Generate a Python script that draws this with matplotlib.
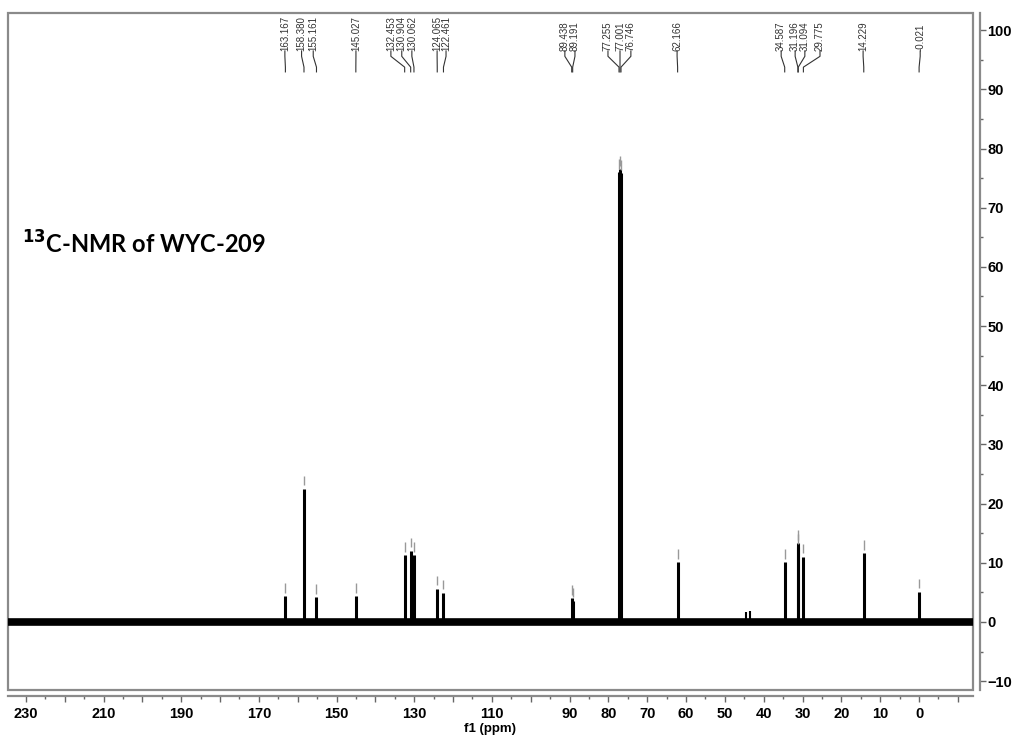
import matplotlib
matplotlib.use("Agg")
import matplotlib.pyplot as plt
from matplotlib.patches import Rectangle
from matplotlib.ticker import MultipleLocator
import matplotlib.transforms as mtransforms

# 13C NMR peaks (ppm, intensity)
peak_ppm = [163.167, 158.380, 155.161, 145.027, 132.453, 130.904, 130.062,
            124.065, 122.461, 89.438, 89.191, 77.255, 77.001, 76.746,
            62.166, 34.587, 31.196, 31.094, 29.775, 14.229, -0.021]
peak_height = [4.3, 22.5, 4.2, 4.3, 11.3, 12.0, 11.3,
               5.6, 4.9, 4.0, 3.6, 76.0, 76.5, 75.8,
               10.1, 10.1, 13.3, 12.6, 11.0, 11.6, 5.1]
# small unlabelled bumps
minor_ppm = [44.6, 43.4]
minor_height = [1.6, 1.9]

# where the rotated peak labels sit (ppm) - layout only
label_pos = [163.3, 159.0, 156.0, 145.0, 136.0, 133.2, 130.6,
             124.1, 121.8, 91.2, 88.6, 80.1, 77.0, 74.2,
             62.3, 35.5, 31.9, 29.4, 25.5, 14.4, -0.3]

xtick_vals = list(range(230, -11, -10))
xtick_text = ['230', '', '210', '', '190', '', '170', '', '150', '', '130', '',
              '110', '', '90', '80', '70', '60', '50', '40', '30', '20', '10', '0', '']
ytick_vals = list(range(-10, 101, 10))

plt.rcParams['font.family'] = ['Liberation Sans', 'DejaVu Sans']

fig = plt.figure(figsize=(10.15, 7.38), dpi=100)
ax = fig.add_axes([8 / 1015, 1 - 690 / 738, 965 / 1015, 677 / 738])

ax.set_xlim(234.6, -13.9)
ax.set_ylim(-11.5, 102.9)

# baseline + peaks
ax.hlines(0, 234.6, -13.9, color='black', lw=5.5)
ax.vlines(peak_ppm, 0, peak_height, color='black', lw=2.2)
ax.vlines(minor_ppm, 0, minor_height, color='black', lw=1.5)
# little peak-pick marks above the tips
ax.vlines(peak_ppm, [h + 0.6 for h in peak_height], [h + 2.2 for h in peak_height],
          color='#999999', lw=1)

# box around the plot
for s in ['top', 'left']:
    ax.spines[s].set_visible(False)
ax.add_patch(Rectangle((0, 0), 1, 1, transform=ax.transAxes, fill=False,
                       edgecolor='#8a8a8a', lw=1.6, clip_on=False))
ax.spines['right'].set_position(('outward', 5))
ax.spines['bottom'].set_position(('outward', 4))
for s in ['right', 'bottom']:
    ax.spines[s].set_color('#8a8a8a')
    ax.spines[s].set_linewidth(1.6)

ax.yaxis.tick_right()
ax.set_yticks(ytick_vals)
ax.yaxis.set_minor_locator(MultipleLocator(5))
ax.set_xticks(xtick_vals)
ax.set_xticklabels(xtick_text)
ax.xaxis.set_minor_locator(MultipleLocator(5))
ax.tick_params(axis='both', which='major', length=4, width=1, color='#666666',
               labelsize=10.5)
ax.tick_params(axis='both', which='minor', length=2.5, width=1, color='#666666')
for t in ax.get_xticklabels() + ax.get_yticklabels():
    t.set_fontweight('bold')
ax.tick_params(axis='x', pad=4)
ax.tick_params(axis='y', pad=1.5)
ax.set_xlabel('f1 (ppm)', fontsize=9.5, fontweight='bold', labelpad=0)
ax.xaxis.set_label_coords(0.5, -0.057)
ax.xaxis.label.set_va('center')

# peak labels across the top
trans = mtransforms.blended_transform_factory(ax.transData, ax.transAxes)
y_txt, y_k1, y_k2, y_end = 0.944, 0.936, 0.92, 0.913
for p, lp in zip(peak_ppm, label_pos):
    ax.text(lp, y_txt, f'{p:.3f}', transform=trans, rotation=90, ha='center',
            va='bottom', fontsize=7, color='#333333')
    ax.plot([lp, lp, p, p], [y_txt, y_k1, y_k2, y_end], transform=trans,
            color='#333333', lw=0.8, clip_on=False)

fig.text(22 / 1015, 1 - 244 / 738, r'$^{\mathbf{13}}$C-NMR of WYC-209',
         fontsize=17, fontweight='bold', family=['Lato', 'DejaVu Sans'],
         va='center', ha='left')

fig.savefig('out.png', dpi=100)
